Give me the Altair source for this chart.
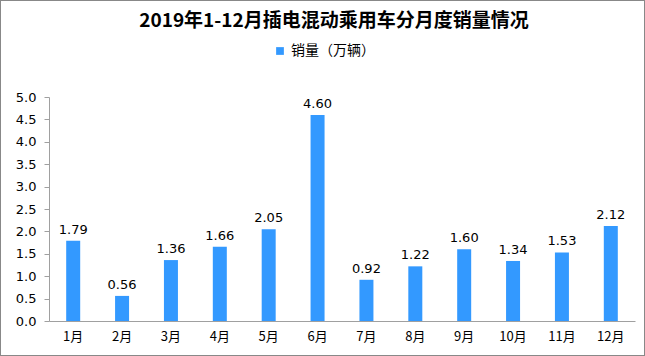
import altair as alt
import pandas as pd

months = ["1月", "2月", "3月", "4月", "5月", "6月", "7月", "8月", "9月", "10月", "11月", "12月"]
sales = [1.79, 0.56, 1.36, 1.66, 2.05, 4.60, 0.92, 1.22, 1.60, 1.34, 1.53, 2.12]
y_ticks = [0, 0.5, 1, 1.5, 2, 2.5, 3, 3.5, 4, 4.5, 5]
series = "销量（万辆）"

df = pd.DataFrame({"month": months, "sales": sales, "series": [series] * len(months)})

font = "Noto Sans CJK SC"

x = alt.X("month:N", sort=months, title=None,
          scale=alt.Scale(paddingInner=0.71, paddingOuter=0.35),
          axis=alt.Axis(labelAngle=0, ticks=False, domainColor="#a0a0a0",
                        labelFontSize=13, labelPadding=9, labelColor="#000000", labelFont=font))
y = alt.Y("sales:Q", title=None,
          scale=alt.Scale(domain=[0, 5]),
          axis=alt.Axis(values=y_ticks, format=".1f",
                        grid=False, domainColor="#a0a0a0", tickColor="#a0a0a0", tickSize=5,
                        labelOverlap=False,
                        labelFontSize=13, labelColor="#000000", labelPadding=8, labelFont="DejaVu Sans"))

bars = alt.Chart(df).mark_bar(size=14).encode(
    x=x, y=y,
    color=alt.Color("series:N", scale=alt.Scale(range=["#3399FF"]), title=None,
                    legend=alt.Legend(orient="none", legendX=224, legendY=-53, symbolType="square",
                                      symbolSize=60, labelFontSize=14, labelFont=font,
                                      labelColor="#000000", symbolStrokeWidth=0))
)

labels = alt.Chart(df).mark_text(dy=-11, fontSize=13, font="DejaVu Sans", color="#000000").encode(
    x=x, y=y, text=alt.Text("sales:Q", format=".2f")
)

border = alt.Chart(df).mark_rect(fill=None, stroke="#888888", strokeWidth=1, clip=False).encode(
    x=alt.value(-48.5), x2=alt.value(595.5), y=alt.value(-96.5), y2=alt.value(258.5)
)

chart = alt.layer(border, bars, labels).properties(
    width=586, height=224,
    autosize=alt.AutoSizeParams(type="none"),
    padding={"left": 49, "top": 97, "right": 10, "bottom": 35},
    title=alt.TitleParams("2019年1-12月插电混动乘用车分月度销量情况", fontSize=19, font=font,
                          fontWeight="bold", color="#000000", anchor="middle", offset=12, dx=-8, dy=43),
).configure_view(stroke=None)

chart.save("out.html", embed_options={"renderer": "svg", "actions": False})
